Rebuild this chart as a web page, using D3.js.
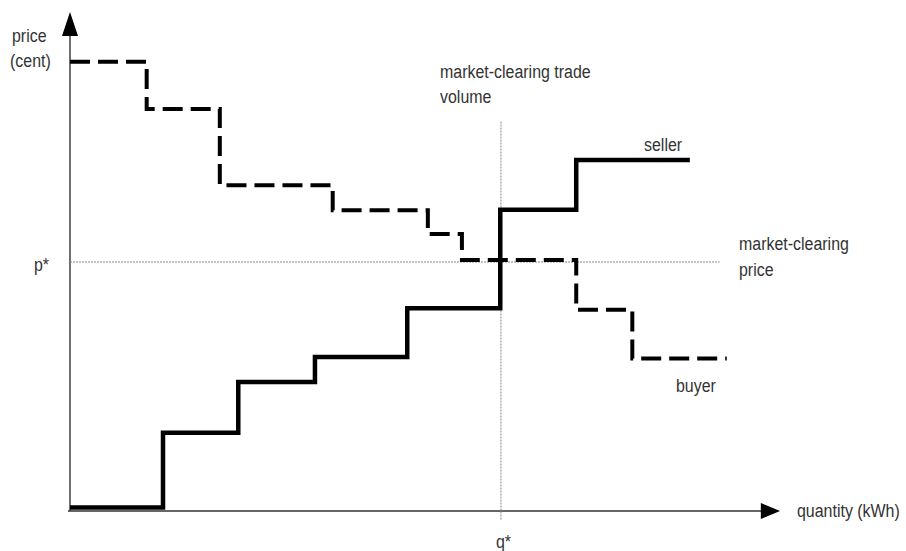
<!DOCTYPE html>
<html><head><meta charset="utf-8">
<script src="https://cdn.jsdelivr.net/npm/d3@7"></script>
<style>body{margin:0;background:#fff}text{font-family:"Liberation Sans",Arial,sans-serif;fill:#333;font-size:19px}</style>
</head><body>
<script>
// Step curves: [quantity, price] breakpoints (arbitrary units)
const sellerQ = [0, 1.31, 2.37, 3.45, 4.75, 6.06, 7.13, 8.73];
const sellerP = [0.05, 1.55, 2.57, 3.07, 4.05, 6.03, 7.03];
const buyerQ  = [0, 1.08, 2.11, 3.70, 5.04, 5.52, 7.13, 7.92, 9.25];
const buyerP  = [9.0, 8.05, 6.52, 6.02, 5.54, 5.02, 4.02, 3.04];
const pStar = 4.98, qStar = 6.07;
const labels = {
  yAxis: ["price", "(cent)"],
  xAxis: "quantity (kWh)",
  volume: ["market-clearing trade", "volume"],
  price: ["market-clearing", "price"],
  seller: "seller", buyer: "buyer", p: "p*", q: "q*"
};

const W = 906, H = 551;
const x = d3.scaleLinear().domain([0, 10]).range([70, 780]);
const y = d3.scaleLinear().domain([0, 10]).range([510, 12]);

const svg = d3.select("body").append("svg").attr("width", W).attr("height", H);

// axes
svg.append("line").attr("x1", x(0)).attr("y1", y(0) + 1).attr("x2", x(0)).attr("y2", y(9.55))
  .attr("stroke", "#222").attr("stroke-width", 1.3);
svg.append("path").attr("d", `M${x(0)-8},${y(9.52)} L${x(0)+8},${y(9.52)} L${x(0)},${y(10)}Z`).attr("fill", "#000");
svg.append("line").attr("x1", x(0) - 2).attr("y1", y(0) + 1).attr("x2", x(9.75)).attr("y2", y(0) + 1)
  .attr("stroke", "#333").attr("stroke-width", 1.3);
svg.append("path").attr("d", `M${x(9.73)},${y(0)+1-8} L${x(9.73)},${y(0)+1+8} L${x(10)},${y(0)+1}Z`).attr("fill", "#000");

// reference lines
svg.append("line").attr("x1", x(0)).attr("x2", x(9.15)).attr("y1", y(pStar)).attr("y2", y(pStar))
  .attr("stroke", "#888").attr("stroke-width", 1).attr("stroke-dasharray", "2,1");
svg.append("line").attr("x1", x(qStar)).attr("x2", x(qStar)).attr("y1", y(7.8)).attr("y2", y(-0.2))
  .attr("stroke", "#888").attr("stroke-width", 1).attr("stroke-dasharray", "2,1");

function stepPts(Q, P) {
  const pts = [];
  for (let i = 0; i < P.length; i++) { pts.push([Q[i], P[i]]); pts.push([Q[i + 1], P[i]]); }
  return pts;
}
const line = d3.line().x(d => x(d[0])).y(d => y(d[1]));

svg.append("path").attr("d", line(stepPts(buyerQ, buyerP))).attr("fill", "none")
  .attr("stroke", "#000").attr("stroke-width", 4).attr("stroke-dasharray", "20,8");
svg.append("path").attr("d", line(stepPts(sellerQ, sellerP))).attr("fill", "none")
  .attr("stroke", "#000").attr("stroke-width", 4.5).attr("stroke-linejoin", "miter");

// texts (condensed look)
function label(t, px, py) {
  svg.append("text").attr("transform", `translate(${px},${py}) scale(0.84,1)`).text(t);
}
label(labels.yAxis[0], 12, 42);
label(labels.yAxis[1], 10, 67);
label(labels.volume[0], 440, 78);
label(labels.volume[1], 440, 103);
label(labels.seller, 644, 151);
label(labels.price[0], 739, 250);
label(labels.price[1], 739, 276);
label(labels.p, 34, 271);
label(labels.buyer, 676, 392);
label(labels.xAxis, 797, 517);
label(labels.q, 496, 548);
</script>
</body></html>
